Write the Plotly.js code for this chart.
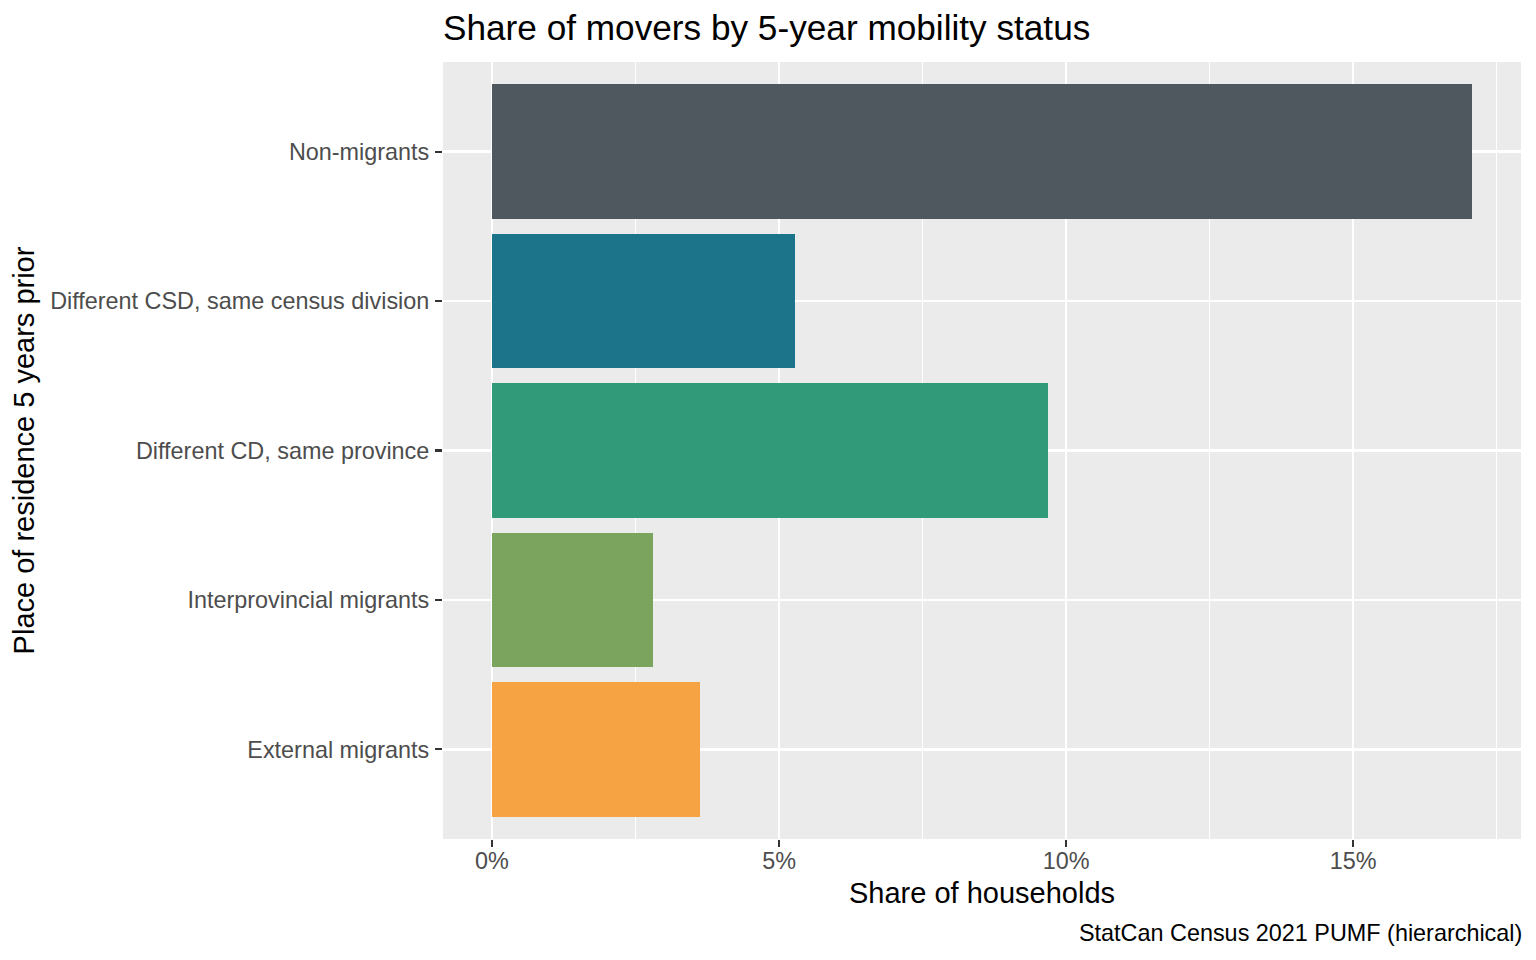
<!DOCTYPE html>
<html>
<head>
<meta charset="utf-8">
<script src="https://cdn.plot.ly/plotly-3.0.1.min.js"></script>
<style>
  html, body { margin: 0; padding: 0; background: #ffffff; }
  #chart { width: 1536px; height: 960px; }
</style>
</head>
<body>
<div id="chart"></div>
<script>
// Categories, top to bottom
var categories = [
  "Non-migrants",
  "Different CSD, same census division",
  "Different CD, same province",
  "Interprovincial migrants",
  "External migrants"
];
// Share of households (fraction)
var shares = [0.1707, 0.0528, 0.0969, 0.0280, 0.0362];
var barColors = ["#4F575F", "#1B7489", "#319A78", "#7BA45E", "#F6A443"];

var xTickVals = [0, 0.05, 0.10, 0.15];
var xTickText = ["0%", "5%", "10%", "15%"];

var maxShare = Math.max.apply(null, shares);
var pad = maxShare * 0.05;

var trace = {
  type: "bar",
  orientation: "h",
  x: shares,
  y: categories,
  width: 0.9,
  marker: { color: barColors, line: { width: 0 } },
  hoverinfo: "x+y",
  showlegend: false
};

var FONT = "Liberation Sans, Arial, Helvetica, sans-serif";

var layout = {
  width: 1536,
  height: 960,
  margin: { l: 443, r: 15, t: 62, b: 121, pad: 0 },
  paper_bgcolor: "#FFFFFF",
  plot_bgcolor: "#EBEBEB",
  font: { family: FONT, color: "#4D4D4D" },
  bargap: 0,
  title: {
    text: "Share of movers by 5-year mobility status",
    font: { family: FONT, size: 35.2, color: "#000000" },
    xref: "paper", x: 0, xanchor: "left",
    yref: "container", y: 1 - 28 / 960, yanchor: "middle"
  },
  xaxis: {
    range: [-pad, maxShare + pad],
    tickvals: xTickVals,
    ticktext: xTickText,
    ticks: "outside",
    ticklen: 7,
    tickwidth: 2.2,
    tickcolor: "#333333",
    ticklabelstandoff: -6,
    tickfont: { family: FONT, size: 23.4, color: "#4D4D4D" },
    showgrid: true,
    gridcolor: "#FFFFFF",
    gridwidth: 2.4,
    minor: { dtick: 0.025, tick0: 0, showgrid: true, gridcolor: "#FFFFFF", gridwidth: 1.2, ticks: "" },
    zeroline: false,
    showline: false,
    automargin: false,
    fixedrange: true,
    title: {
      text: "Share of households",
      font: { family: FONT, size: 29, color: "#000000" },
      standoff: 9
    }
  },
  yaxis: {
    type: "category",
    categoryorder: "array",
    categoryarray: categories,
    range: [categories.length - 0.4, -0.6],
    ticks: "outside",
    ticklen: 7,
    tickwidth: 2.2,
    tickcolor: "#333333",
    ticklabelstandoff: 1,
    tickfont: { family: FONT, size: 23.4, color: "#4D4D4D" },
    showgrid: true,
    gridcolor: "#FFFFFF",
    gridwidth: 2.4,
    zeroline: false,
    showline: false,
    automargin: false,
    fixedrange: true,
    title: {
      text: "Place of residence 5 years prior",
      font: { family: FONT, size: 29, color: "#000000" },
      standoff: 6
    }
  },
  annotations: [{
    text: "StatCan Census 2021 PUMF (hierarchical)",
    xref: "paper", x: 1, xanchor: "right", xshift: 3,
    yref: "paper", y: (839 - 933) / 777, yanchor: "middle",
    showarrow: false,
    font: { family: FONT, size: 23.4, color: "#000000" }
  }]
};

Plotly.newPlot("chart", [trace], layout, { displayModeBar: false, staticPlot: true });
</script>
</body>
</html>
